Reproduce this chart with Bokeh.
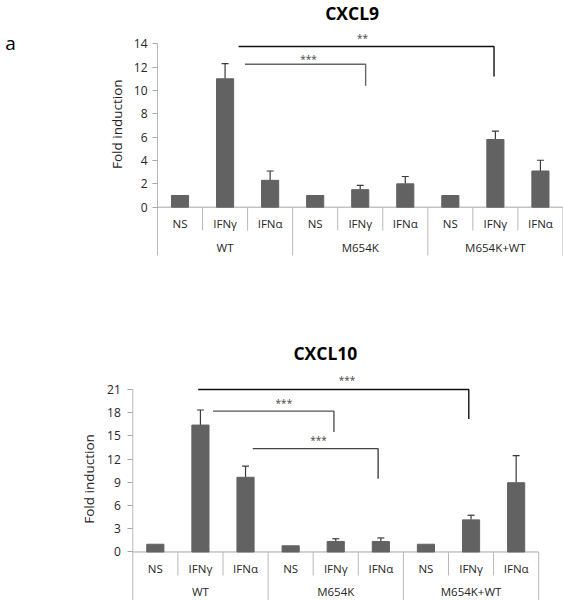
from bokeh.plotting import figure
from bokeh.models import Range1d, LinearAxis, FixedTicker, ColumnDataSource, Whisker, TeeHead
from bokeh.layouts import column
from bokeh.embed import file_html
from bokeh.resources import INLINE
from bokeh.core.properties import value

# ---------------- data ----------------
treatments = ["NS", "IFNγ", "IFNα"]
genotypes = ["WT", "M654K", "M654K+WT"]
categories = treatments * 3

cxcl9_mean = [1.0, 11.0, 2.3, 1.0, 1.5, 2.0, 1.0, 5.8, 3.1]
cxcl9_err = [0.0, 1.3, 0.8, 0.0, 0.37, 0.63, 0.0, 0.72, 0.92]
cxcl9_ticks = [0, 2, 4, 6, 8, 10, 12, 14]

cxcl10_mean = [1.0, 16.4, 9.65, 0.8, 1.36, 1.36, 1.0, 4.15, 8.95]
cxcl10_err = [0.0, 1.95, 1.45, 0.0, 0.35, 0.45, 0.0, 0.6, 3.5]
cxcl10_ticks = [0, 3, 6, 9, 12, 15, 18, 21]

# significance brackets: (x start, x end, top y, drop y, label, label x, label y, colour)
cxcl9_brackets = [
    (1.80, 7.47, 13.77, 11.2, "**", 4.55, 14.46, "#111111"),
    (1.94, 4.62, 12.25, 10.4, "***", 3.35, 12.66, "#666666"),
]
cxcl10_brackets = [
    (1.45, 7.45, 21.0, 17.2, "***", 4.75, 22.16, "#111111"),
    (1.78, 4.46, 18.2, 15.5, "***", 3.35, 19.3, "#555555"),
    (2.66, 5.44, 13.35, 9.45, "***", 4.12, 14.5, "#444444"),
]

FONT = value("Open Sans")
BAR = "#626262"
GRID = "#b8b8b8"
TXT = "#262626"


def make_chart(title, means, errs, ticks, brackets, xr, yr, height,
               title_pos, ylabel_pos, cat_y, grp_y, minor_bottom, group_bottom,
               label_standoff, letter=None):
    p = figure(width=563, height=height, x_range=Range1d(*xr), y_range=Range1d(*yr),
               output_backend="svg", toolbar_location=None, min_border=0,
               x_axis_type=None, y_axis_type=None)
    p.outline_line_color = None

    yaxis = LinearAxis(fixed_location=0, ticker=FixedTicker(ticks=ticks))
    yaxis.axis_line_color = None
    yaxis.major_tick_out = 5
    yaxis.major_tick_in = 0
    yaxis.major_tick_line_color = "#a6a6a6"
    yaxis.minor_tick_line_color = None
    yaxis.major_label_text_font = "Open Sans"
    yaxis.major_label_text_font_size = "12px"
    yaxis.major_label_text_color = TXT
    yaxis.major_label_standoff = label_standoff
    p.add_layout(yaxis, "left")

    n = len(means)
    xs = [i + 0.5 for i in range(n)]

    # axis line, baseline and category dividers
    p.segment(x0=[0], y0=[ticks[-1]], x1=[0], y1=[group_bottom], line_color=GRID, line_width=1)
    p.segment(x0=[0], y0=[0], x1=[n], y1=[0], line_color="#a6a6a6", line_width=1)
    minor = [i for i in range(1, n) if i % 3 != 0]
    major = [i for i in range(3, n + 1, 3)]
    p.segment(x0=minor, y0=[0] * len(minor), x1=minor, y1=[minor_bottom] * len(minor),
              line_color=GRID, line_width=1)
    p.segment(x0=major, y0=[0] * len(major), x1=major, y1=[group_bottom] * len(major),
              line_color=GRID, line_width=1)

    # bars
    p.vbar(x=xs, top=means, bottom=0, width=0.38, fill_color=BAR, line_color=BAR)

    # error bars (upper only)
    ex = [x for x, e in zip(xs, errs) if e > 0]
    el = [m for m, e in zip(means, errs) if e > 0]
    eu = [m + e for m, e in zip(means, errs) if e > 0]
    src = ColumnDataSource(dict(x=ex, lower=el, upper=eu))
    w = Whisker(source=src, base="x", lower="lower", upper="upper",
                line_color="#3a3a3a", line_width=1.2,
                upper_head=TeeHead(size=7, line_color="#3a3a3a", line_width=1.2),
                lower_head=None)
    p.add_layout(w)

    # brackets
    for (x0, x1, yt, yd, lab, lx, ly, col) in brackets:
        p.line(x=[x0, x1, x1], y=[yt, yt, yd], line_color=col, line_width=1.4)
        p.text(x=[lx], y=[ly], text=[lab], text_font=FONT, text_font_size="10px",
               text_align="center", text_baseline="middle", text_color="#444444")

    # category and group labels
    p.text(x=xs, y=[cat_y] * n, text=categories, text_font=FONT, text_font_size="11.5px",
           text_align="center", text_baseline="middle", text_color=TXT)
    p.text(x=[1.5, 4.5, 7.5], y=[grp_y] * 3, text=genotypes, text_font=FONT,
           text_font_size="11.5px", text_align="center", text_baseline="middle",
           text_color=TXT)

    # y label
    p.text(x=[ylabel_pos[0]], y=[ylabel_pos[1]], text=["Fold  induction"], angle=1.5707963,
           text_font=FONT, text_font_size="13.5px", text_align="center",
           text_baseline="middle", text_color=TXT)

    # title
    p.text(x=[title_pos[0]], y=[title_pos[1]], text=[title], text_font=FONT,
           text_font_size="17.5px", text_font_style="bold", text_align="center",
           text_baseline="middle", text_color="#000000")

    if letter is not None:
        p.text(x=[letter[0]], y=[letter[1]], text=[letter[2]], text_font=FONT,
               text_font_size="19px", text_align="center", text_baseline="middle",
               text_color="#000000")
    return p


p1 = make_chart("CXCL9", cxcl9_mean, cxcl9_err, cxcl9_ticks, cxcl9_brackets,
                xr=(-3.485, 9.012), yr=(-7.14, 17.71), height=290,
                title_pos=(4.32, 16.68), ylabel_pos=(-0.888, 7.26),
                cat_y=-1.4, grp_y=-3.45, minor_bottom=-2.0, group_bottom=-4.14,
                label_standoff=5, letter=(-3.263, 14.11, "a"))

p2 = make_chart("CXCL10", cxcl10_mean, cxcl10_err, cxcl10_ticks, cxcl10_brackets,
                xr=(-2.933, 9.55), yr=(-6.27, 33.79), height=310,
                title_pos=(4.27, 25.65), ylabel_pos=(-0.976, 9.66),
                cat_y=-2.17, grp_y=-5.06, minor_bottom=-3.04, group_bottom=-6.27,
                label_standoff=7)

layout = column(p1, p2)
open("out.html", "w").write(file_html(layout, INLINE))
